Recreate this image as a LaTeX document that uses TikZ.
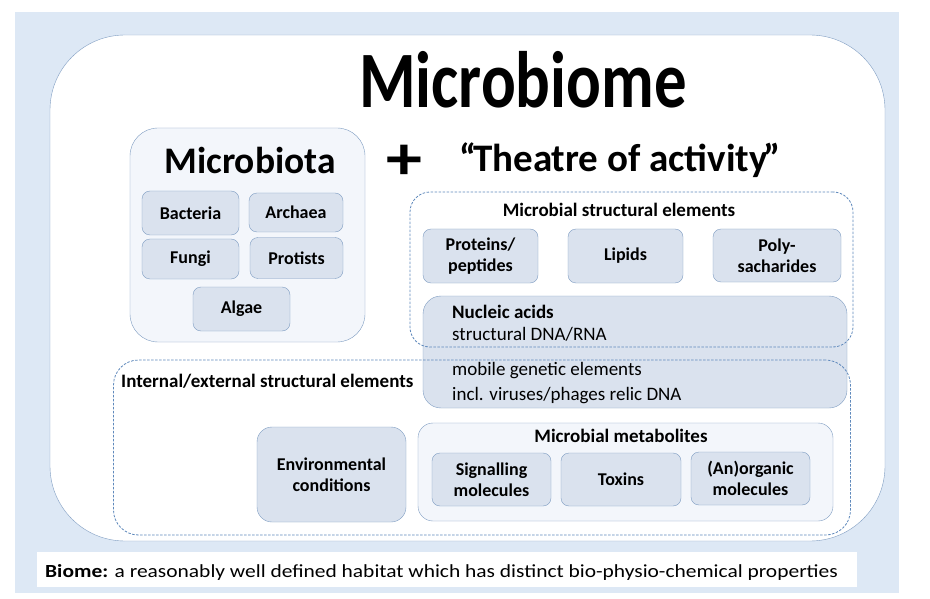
\documentclass[tikz,border=0pt]{standalone}
\usepackage{fontspec}
\setmainfont{Carlito}
\newfontfamily\narrowfont{Carlito}[FakeStretch=0.81]
\newfontfamily\widefont{Carlito}[FakeStretch=1.16]
\usetikzlibrary{positioning}
\definecolor{hatchblue}{HTML}{DDE8F5}
\definecolor{edgeblue}{HTML}{7F9DC2}
\definecolor{itemfill}{HTML}{DAE2EE}
\definecolor{groupfill}{HTML}{F3F6FB}
\definecolor{dashblue}{HTML}{5F89BC}
\newcommand{\fs}[2]{\fontsize{#1}{#2}\selectfont}

\begin{document}
\begin{tikzpicture}[
        x=1pt, y=-1pt,
        every node/.style={inner sep=0pt, align=center},
        item/.style={draw=edgeblue, fill=itemfill, rounded corners=8pt, font={\fs{18}{21}\bfseries}},
        group/.style={draw=edgeblue, fill=groupfill, rounded corners=#1},
        group/.default=15pt,
        dashgroup/.style={draw=dashblue, line width=0.8pt, dash pattern=on 2.5pt off 1.5pt},
        heading/.style={font={\fs{19}{22}\bfseries}},
        plain/.style={anchor=base west, font={\fs{19}{22}}},
        ]
        \useasboundingbox (0,0) rectangle (930,599);
        \fill[hatchblue] (15,12) rectangle (899,593);
        \node (biome) [draw=edgeblue, fill=white, rounded corners=75pt, minimum width=835pt, minimum height=506pt] at (467.5,288) {};
        \node (title) [font={\narrowfont\fs{80}{90}\bfseries}] at (523,80) {Microbiome};

        % microbiota side
        \node (microbiota) [group=28pt, minimum width=235pt, minimum height=214pt] at (247.5,235) {};
        \node [font={\fs{37.5}{40}\bfseries}] at (250,160) {Microbiota};
        \node (bacteria) [item, minimum width=97pt, minimum height=44pt] at (190.5,213) {Bacteria};
        \node (archaea) [item, minimum width=94pt, minimum height=39pt] at (296,212.5) {Archaea};
        \node (fungi) [item, minimum width=97pt, minimum height=40pt] at (190.5,259) {Fungi};
        \node (protists) [item, minimum width=93pt, minimum height=41pt] at (296.5,258) {Protists};
        \node (algae) [item, minimum width=97pt, minimum height=44pt] at (241.5,309) {Algae};

        \node (plus) [font={\widefont\fs{62}{62}\bfseries}] at (404.5,162) {+};
        \node (theatre) [font={\fs{39}{44}\bfseries}] at (620,160) {“\kern-3ptTheatre of activity\kern-4pt”};

        % nucleic acids, under both dashed groups
        \node (nucleic) [item, rounded corners=18pt, minimum width=424pt, minimum height=112pt] at (635,352) {};
        \node [plain] at (452,318) {\textbf{Nucleic acids}};
        \node [plain] at (452,340) {structural DNA/RNA};
        \node [plain] at (452,375) {mobile genetic elements};
        \node [plain] at (452,400) {incl. viruses/phages relic DNA};

        % microbial structural elements
        \node (structural) [dashgroup, rounded corners=20pt, minimum width=443pt, minimum height=155pt] at (631.5,269.5) {};
        \node [heading] at (619,210) {Microbial structural elements};
        \node (proteins) [item, minimum width=115pt, minimum height=54pt] at (480.5,256) {Proteins/\\peptides};
        \node (lipids) [item, minimum width=115pt, minimum height=54pt] at (625.5,256) {Lipids};
        \node (poly) [item, minimum width=128pt, minimum height=53pt] at (777,255.5) {Poly-\\sacharides};

        % internal/external structural elements
        \node (internal) [dashgroup, rounded corners=25pt, minimum width=737pt, minimum height=175pt] at (482,447.5) {};
        \node [heading, anchor=base west] at (121,387) {Internal/external structural elements};
        \node (environment) [item, rounded corners=15pt, minimum width=149pt, minimum height=95pt] at (331.5,474.5) {Environmental\\conditions};
        \node (metabolites) [group, minimum width=415pt, minimum height=98pt] at (625.5,472) {};
        \node [heading] at (621,436) {Microbial metabolites};
        \node (signalling) [item, minimum width=119pt, minimum height=53pt] at (491.5,479.5) {Signalling\\molecules};
        \node (toxins) [item, minimum width=120pt, minimum height=53pt] at (621,479.5) {Toxins};
        \node (organic) [item, minimum width=119pt, minimum height=53pt] at (750.5,478.5) {(An)organic\\molecules};

        % definition strip
        \node (strip) [fill=white, minimum width=820pt, minimum height=35pt] at (447,569.5) {};
        \node (definition) [anchor=base west, font={\widefont\fs{18.5}{22}}] at (45,577) {\textbf{Biome:} a reasonably well defined habitat which has distinct bio-physio-chemical properties};
\end{tikzpicture}
\end{document}
